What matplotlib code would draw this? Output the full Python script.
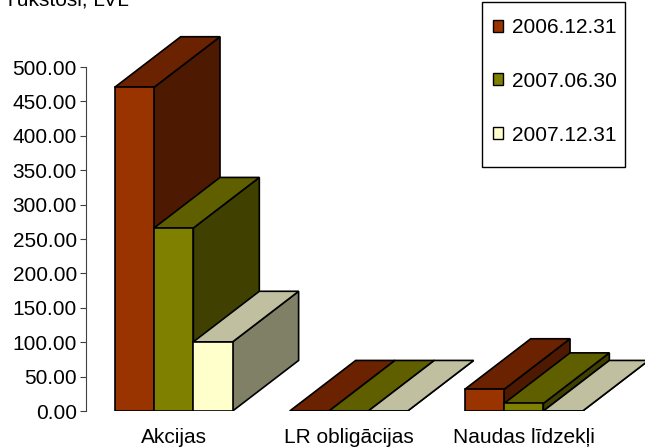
import numpy as np
import matplotlib.pyplot as plt
from matplotlib.patches import Polygon, Patch, Rectangle

plt.rcParams['font.family'] = ['Liberation Sans', 'DejaVu Sans']

# data: thousands of LVL per asset class
categories = ['Akcijas', 'LR obligācijas', 'Naudas līdzekļi']
dates = ['2006.12.31', '2007.06.30', '2007.12.31']
s_2006_12 = [470.5, 0.0, 31.5]
s_2007_06 = [266.0, 0.0, 11.0]
s_2007_12 = [100.5, 0.0, 0.0]
series = [s_2006_12, s_2007_06, s_2007_12]

# face colours per series: front, top, side
front_cols = ['#993300', '#808000', '#FFFFCC']
top_cols = ['#6B2200', '#5F5F00', '#C0C0A0']
side_cols = ['#4D1900', '#404000', '#808066']

fig = plt.figure(figsize=(6.45, 4.48), dpi=100)
ax = fig.add_axes([86 / 645, 37 / 448, 559 / 645, 411 / 448])
ax.set_xlim(-0.501, 2.693)
ax.set_ylim(0, 500 * 411 / 344)

bar_w = 0.2246
dx, dy = 0.377, 73.5   # oblique depth offset (data units)

for i in range(len(categories)):
    left = i - 1.5 * bar_w
    for j, s in enumerate(series):
        v = s[i]
        x0 = left + j * bar_w
        x1 = x0 + bar_w
        side = [(x1, 0), (x1 + dx, dy), (x1 + dx, v + dy), (x1, v)]
        top = [(x0, v), (x1, v), (x1 + dx, v + dy), (x0 + dx, v + dy)]
        front = [(x0, 0), (x1, 0), (x1, v), (x0, v)]
        for pts, c in [(side, side_cols[j]), (top, top_cols[j]), (front, front_cols[j])]:
            ax.add_patch(Polygon(pts, closed=True, facecolor=c, edgecolor='black',
                                 linewidth=1.2, joinstyle='miter'))

for sp in ['top', 'right', 'bottom']:
    ax.spines[sp].set_visible(False)
ax.spines['left'].set_bounds(0, 500)
ax.spines['left'].set_color('#404040')

ax.set_yticks(np.arange(0, 501, 50))
ax.set_yticklabels(['%.2f' % t for t in np.arange(0, 501, 50)])
ax.tick_params(axis='y', length=4.5, width=0.8, color='#404040', pad=2, labelsize=15)
ax.set_xticks(range(len(categories)))
ax.set_xticklabels(categories)
ax.tick_params(axis='x', length=0, pad=12, labelsize=15)

fig.text(4 / 645, 1 - 5 / 448, 'Tūkstoši, LVL', fontsize=15, va='baseline', ha='left')

# legend box
fig.add_artist(Rectangle((481.7 / 645, 1 - 166.7 / 448), 143.3 / 645, 164.7 / 448,
                         transform=fig.transFigure, fill=False, edgecolor='black', linewidth=1.0))
handles = [Patch(facecolor=c, edgecolor='black', linewidth=1) for c in front_cols]
leg = fig.legend(handles, dates, loc='upper left', bbox_to_anchor=(493 / 645, 1 - 18 / 448),
                 fontsize=15, frameon=False, borderpad=0, labelspacing=1.67,
                 handlelength=0.5, handleheight=0.5, handletextpad=0.4, borderaxespad=0)

fig.savefig('out.png', dpi=100)
